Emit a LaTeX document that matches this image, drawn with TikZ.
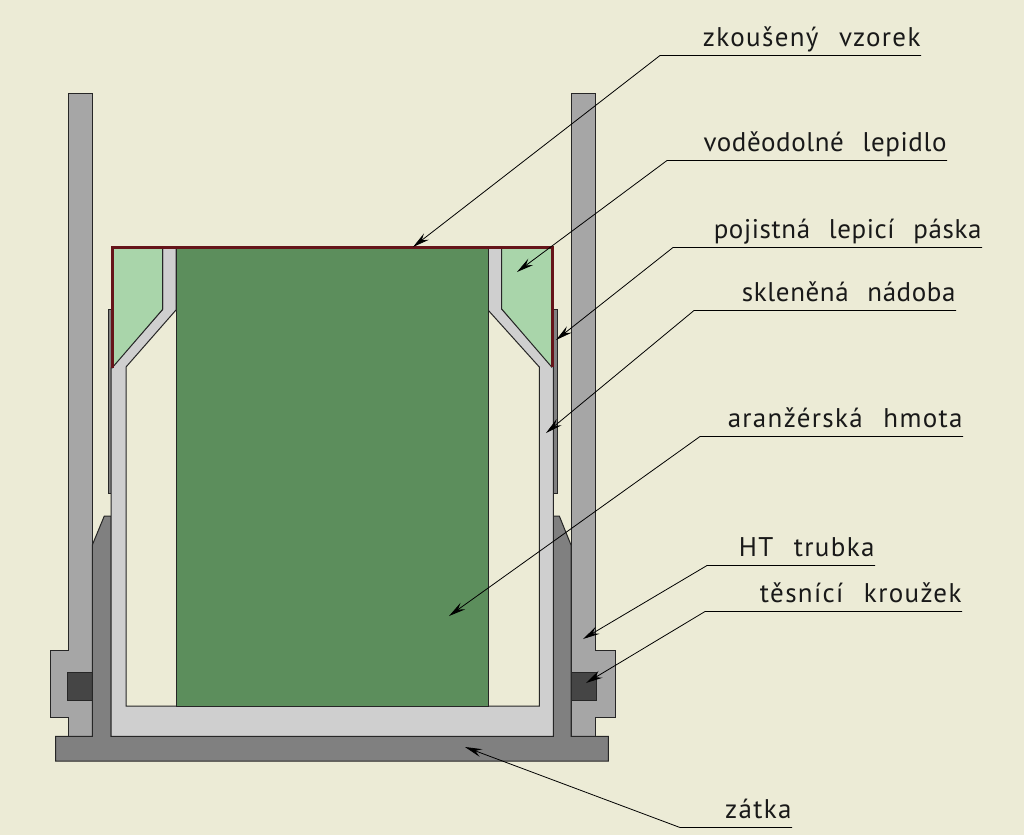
\documentclass[tikz,border=0pt]{standalone}
\usepackage{fontspec}
\usetikzlibrary{arrows.meta}
\newfontfamily\labelfont[LetterSpace=5,WordSpace=2.4]{PT Sans}
\newfontfamily\tightfont[LetterSpace=2.2,WordSpace=2.4]{PT Sans}
\definecolor{paper}{HTML}{ECEBD6}
\definecolor{tubegray}{HTML}{A6A6A6}
\definecolor{capgray}{HTML}{808080}
\definecolor{glassgray}{HTML}{CFCFCF}
\definecolor{sealgray}{HTML}{454545}
\definecolor{foam}{HTML}{5C8E5C}
\definecolor{glue}{HTML}{A9D5AA}
\definecolor{sample}{HTML}{651419}
\begin{document}
\begin{tikzpicture}[x=1pt, y=-1pt, line width=1pt,
    part/.style = {draw=black!85, line join=miter},
    leader/.style = {draw=black, line width=0.8pt, -{Stealth[length=17pt, width=8pt, inset=6pt]}},
    main/.style = {font=\labelfont\fontsize{27}{27}\selectfont, inner sep=0pt, text depth=8.5pt, anchor=south east, text=black!90},
    tight/.style = {main, font=\tightfont\fontsize{27}{27}\selectfont}]
    \useasboundingbox (0,0) rectangle (1024,835);
    \fill[paper] (0,0) rectangle (1024,835);

    % outer tube
    \filldraw[part, fill=tubegray] (68.5,93) -- (92.3,93) -- (92.3,736.3) -- (68.5,736.3) -- (68.5,717.7) -- (50,717.7) -- (50,650) -- (68.5,650) -- cycle;
    \filldraw[part, fill=tubegray] (571,93) -- (595.7,93) -- (595.7,650) -- (615.3,650) -- (615.3,717.7) -- (595.7,717.7) -- (595.7,736.3) -- (571,736.3) -- cycle;
    % seal rings
    \filldraw[part, fill=sealgray] (67.3,672.3) rectangle (92.3,700);
    \filldraw[part, fill=sealgray] (571,672.3) rectangle (596.7,700);
    % plug
    \filldraw[part, fill=capgray] (92.3,545) -- (104.3,516) -- (111,516) -- (111,736.3) -- (553.3,736.3) -- (553.3,516) -- (559.3,516) -- (571,545) -- (571,736.3) -- (608.3,736.3) -- (608.3,761) -- (55.7,761) -- (55.7,736.3) -- (92.3,736.3) -- cycle;
    % tape
    \filldraw[part, fill=capgray] (108.3,309) rectangle (112,493);
    \filldraw[part, fill=capgray] (553.3,309) rectangle (557.3,493);
    % glass
    \filldraw[part, fill=glassgray] (111,736.3) -- (111,368) -- (162.7,309.3) -- (162.7,247) -- (176,247) -- (176,310) -- (126,367) -- (126,706) -- (539.3,706) -- (539.3,367) -- (488,310) -- (488,247) -- (501.7,247) -- (501.7,309) -- (553.3,367) -- (553.3,736.3) -- cycle;
    % foam and glue
    \filldraw[part, fill=foam] (176,247) rectangle (488,706);
    \filldraw[part, fill=glue] (112,247) -- (162.7,247) -- (162.7,309.3) -- (112,368) -- cycle;
    \filldraw[part, fill=glue] (501.7,247) -- (551.7,247) -- (551.7,367) -- (501.7,309) -- cycle;
    % sample
    \draw[sample, line width=3pt] (112,368) -- (112,247) -- (552,247) -- (552,367);

    \node[main] (vzorek) at (921,55.5) {zkoušený vzorek};
    \node[tight] (lepidlo) at (947,160.5) {voděodolné lepidlo};
    \node[tight] (paska) at (982,247.5) {pojistná lepicí páska};
    \node[tight] (nadoba) at (956,310.5) {skleněná nádoba};
    \node[main] (hmota) at (963,436.5) {aranžérská hmota};
    \node[main] (trubka) at (875,565.5) {HT trubka};
    \node[main] (krouzek) at (962,611.5) {těsnící kroužek};
    \node[main] (zatka) at (792,827.5) {zátka};

    \coordinate (k1) at (660,55.5);
    \coordinate (k2) at (667,160.5);
    \coordinate (k3) at (673,247.5);
    \coordinate (k4) at (694,310.5);
    \coordinate (k5) at (700,436.5);
    \coordinate (k6) at (707,565.5);
    \coordinate (k7) at (705,611.5);
    \coordinate (k8) at (680,827.5);
    \coordinate (t1) at (413,247);
    \coordinate (t2) at (517,272);
    \coordinate (t3) at (556,340);
    \coordinate (t4) at (546,433);
    \coordinate (t5) at (449,616);
    \coordinate (t6) at (583,639);
    \coordinate (t7) at (586,683);
    \coordinate (t8) at (465,747);

    \draw[leader] (vzorek.south east) -- (k1) -- (t1);
    \draw[leader] (lepidlo.south east) -- (k2) -- (t2);
    \draw[leader] (paska.south east) -- (k3) -- (t3);
    \draw[leader] (nadoba.south east) -- (k4) -- (t4);
    \draw[leader] (hmota.south east) -- (k5) -- (t5);
    \draw[leader] (trubka.south east) -- (k6) -- (t6);
    \draw[leader] (krouzek.south east) -- (k7) -- (t7);
    \draw[leader] (zatka.south east) -- (k8) -- (t8);
\end{tikzpicture}
\end{document}
